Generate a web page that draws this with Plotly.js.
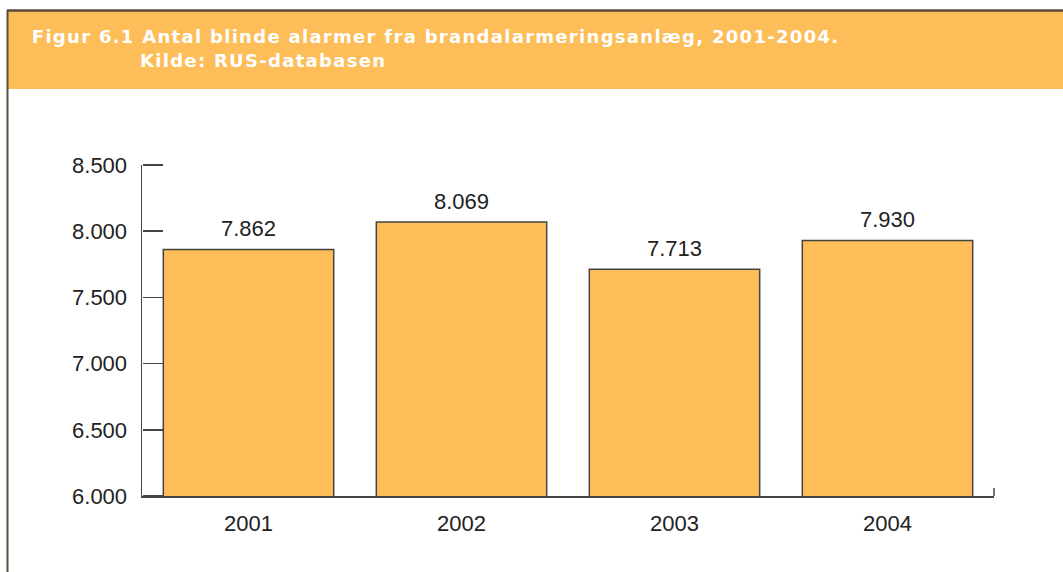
<!DOCTYPE html>
<html>
<head>
<meta charset="utf-8">
<script src="https://cdn.plot.ly/plotly-3.0.1.min.js"></script>
<style>
html,body{margin:0;padding:0;background:#fff;}
#chart{width:1063px;height:572px;}
.annotation.hdr text{letter-spacing:1.3px;}
</style>
</head>
<body>
<div id="chart"></div>
<script>
const years = ["2001", "2002", "2003", "2004"];
const alarms = [7862, 8069, 7713, 7930];
const yTicks = [6000, 6500, 7000, 7500, 8000, 8500];
const titleLine1 = "Figur 6.1 Antal blinde alarmer fra brandalarmeringsanlæg, 2001-2004.";
const titleLine2 = "Kilde: RUS-databasen";

const W = 1063, H = 572;
const L = 142, R = 994, T = 165, B = 496;
const pw = R - L, ph = B - T;
const px = x => (x - L) / pw;
const py = y => (B - y) / ph;

const orange = "#FDBD58";
const dark = "#444444";
const border = "#5a4b3c";
const fontFam = "Liberation Sans, Arial, sans-serif";

const fmt = v => String(Math.round(v)).replace(/\B(?=(\d{3})+(?!\d))/g, ".");

const trace = {
  type: "bar",
  x: years,
  y: alarms,
  marker: {color: orange, line: {color: dark, width: 1.5}},
  hoverinfo: "skip"
};
// invisible helper so that the tick-only axis (y2) is drawn
const tickTrace = {type: "scatter", x: [years[0]], y: [yTicks[0]], yaxis: "y2",
  mode: "markers", marker: {opacity: 0}, hoverinfo: "skip"};

const valueLabels = years.map((yr, i) => ({
  x: i, y: alarms[i], xref: "x", yref: "y",
  text: fmt(alarms[i]), showarrow: false,
  xanchor: "center", yanchor: "bottom", yshift: 6,
  font: {family: fontFam, size: 22, color: "#222"}
}));

const layout = {
  width: W, height: H,
  margin: {l: L, r: W - R, t: T, b: H - B, pad: 0},
  paper_bgcolor: "#fff", plot_bgcolor: "#fff",
  separators: ",.",
  showlegend: false,
  bargap: 0.2,
  font: {family: fontFam, size: 22, color: "#222"},
  xaxis: {
    type: "category",
    range: [-0.5, years.length - 0.5],
    showline: true, linecolor: dark, linewidth: 1.5,
    ticks: "", showgrid: false, zeroline: false,
    tickfont: {size: 22, color: "#222"},
    ticklabelstandoff: 7
  },
  yaxis: {
    range: [6000, 8500],
    tickvals: yTicks,
    tickformat: ",d",
    showline: true, linecolor: dark, linewidth: 1.5,
    ticks: "", showgrid: false, zeroline: false,
    tickfont: {size: 22, color: "#222"},
    ticklabelstandoff: 9
  },
  yaxis2: {
    overlaying: "y", side: "right", anchor: "free", position: 0,
    range: [6000, 8500],
    tickvals: yTicks,
    showticklabels: false, showline: false,
    ticks: "outside", ticklen: 20, tickwidth: 1.5, tickcolor: dark,
    showgrid: false, zeroline: false
  },
  shapes: [
    {type: "rect", xref: "paper", yref: "paper", layer: "below",
     x0: px(8), x1: px(W + 5), y0: py(89), y1: py(11),
     fillcolor: orange, line: {width: 0}},
    {type: "line", xref: "paper", yref: "paper",
     x0: px(7), x1: px(W + 5), y0: py(10.5), y1: py(10.5),
     line: {color: border, width: 2.5}},
    {type: "line", xref: "paper", yref: "paper",
     x0: px(7.5), x1: px(7.5), y0: py(10), y1: py(H + 5),
     line: {color: border, width: 2}},
    {type: "line", xref: "paper", yref: "paper",
     x0: 1, x1: 1, y0: 0, y1: 8 / ph,
     line: {color: dark, width: 1.5}}
  ],
  annotations: valueLabels.concat([
    {text: "<b>" + titleLine1 + "</b>", xref: "paper", yref: "paper",
     x: px(32), y: py(36), xanchor: "left", yanchor: "middle", showarrow: false,
     xshift: 42,
     font: {family: "DejaVu Sans, sans-serif", size: 18, color: "#fff"}},
    {text: "<b>" + titleLine2 + "</b>", xref: "paper", yref: "paper",
     x: px(142), y: py(60), xanchor: "left", yanchor: "middle", showarrow: false,
     xshift: 9,
     font: {family: "DejaVu Sans, sans-serif", size: 18, color: "#fff"}}
  ])
};

Plotly.newPlot("chart", [trace, tickTrace], layout, {staticPlot: true, displayModeBar: false}).then(gd => {
  const anns = gd.querySelectorAll(".annotation");
  const n = anns.length;
  anns[n - 1].classList.add("hdr");
  anns[n - 2].classList.add("hdr");
});
</script>
</body>
</html>
